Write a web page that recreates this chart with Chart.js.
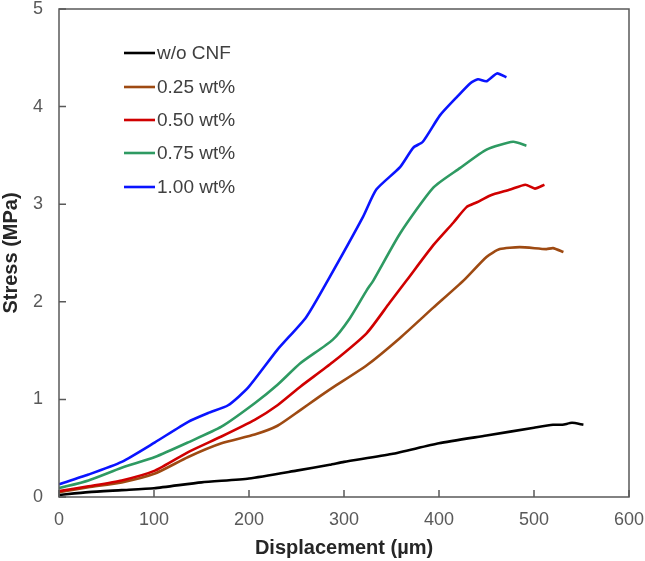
<!DOCTYPE html>
<html>
<head>
<meta charset="utf-8">
<script src="https://cdn.jsdelivr.net/npm/chart.js@4.4.0/dist/chart.umd.min.js"></script>
<style>
  html, body { margin: 0; padding: 0; background: #fff; }
  #wrap { width: 645px; height: 561px; position: relative; }
</style>
</head>
<body>
<div id="wrap"><canvas id="c" width="645" height="561"></canvas></div>
<script>
// ---- Data ----
const seriesLabels = ["w/o CNF", "0.25 wt%", "0.50 wt%", "0.75 wt%", "1.00 wt%"];
const seriesColors = ["#000000", "#9E4A12", "#D00000", "#2E9A62", "#0A14FF"];

const xNoCNF = [0, 31, 66, 100, 150, 200, 250, 285, 300, 350, 400, 450, 500, 520, 530, 540, 552];
const yNoCNF = [0.02, 0.05, 0.07, 0.09, 0.15, 0.19, 0.27, 0.33, 0.36, 0.44, 0.55, 0.63, 0.71, 0.74, 0.74, 0.76, 0.74];

const x025 = [0, 31, 66, 101, 136, 171, 206, 230, 254, 270, 288, 324, 359, 394, 426, 450, 464, 485, 513, 520, 531];
const y025 = [0.05, 0.10, 0.15, 0.24, 0.41, 0.55, 0.64, 0.73, 0.89, 1.00, 1.12, 1.35, 1.63, 1.94, 2.22, 2.46, 2.54, 2.56, 2.54, 2.55, 2.51];

const x050 = [0, 31, 66, 101, 136, 171, 206, 230, 254, 288, 324, 348, 366, 394, 415, 429, 440, 454, 475, 491, 501, 511];
const y050 = [0.06, 0.11, 0.17, 0.27, 0.46, 0.62, 0.79, 0.94, 1.13, 1.38, 1.68, 1.99, 2.22, 2.58, 2.81, 2.97, 3.02, 3.09, 3.15, 3.20, 3.16, 3.20];

const x075 = [0, 31, 66, 101, 136, 171, 206, 230, 254, 288, 306, 324, 331, 359, 394, 422, 450, 478, 492];
const y075 = [0.09, 0.17, 0.30, 0.41, 0.56, 0.72, 0.96, 1.15, 1.37, 1.61, 1.83, 2.12, 2.22, 2.70, 3.17, 3.37, 3.56, 3.64, 3.60];

const x100 = [0, 31, 66, 101, 136, 157, 178, 199, 230, 260, 283, 320, 334, 359, 373, 383, 401, 419, 433, 441, 450, 461, 471];
const y100 = [0.13, 0.23, 0.36, 0.56, 0.77, 0.86, 0.94, 1.12, 1.51, 1.84, 2.22, 2.87, 3.15, 3.38, 3.58, 3.64, 3.91, 4.10, 4.24, 4.28, 4.26, 4.34, 4.30];

const xTicks = [0, 100, 200, 300, 400, 500, 600];
const yTicks = [0, 1, 2, 3, 4, 5];

const seriesX = [xNoCNF, x025, x050, x075, x100];
const seriesY = [yNoCNF, y025, y050, y075, y100];

const datasets = seriesLabels.map((lab, i) => ({
  label: lab,
  data: seriesX[i].map((x, j) => ({ x: x, y: seriesY[i][j] })),
  borderColor: seriesColors[i],
  backgroundColor: seriesColors[i],
  borderWidth: 2.6,
  pointRadius: 0,
  showLine: true,
  tension: 0.2,
  fill: false
})).reverse();

const FONT = "'Liberation Sans', Arial, sans-serif";
const FRAME = "#595959";

// frame, inward ticks and legend
const decor = {
  id: 'decor',
  afterDraw(chart) {
    const ctx = chart.ctx;
    const a = chart.chartArea;
    const xs = chart.scales.x, ys = chart.scales.y;
    ctx.save();
    ctx.strokeStyle = FRAME;
    ctx.lineWidth = 1.5;
    ctx.strokeRect(a.left, a.top, a.right - a.left, a.bottom - a.top);
    ctx.beginPath();
    xTicks.forEach(v => {
      const px = xs.getPixelForValue(v);
      ctx.moveTo(px, a.bottom); ctx.lineTo(px, a.bottom - 7);
    });
    yTicks.forEach(v => {
      const py = ys.getPixelForValue(v);
      ctx.moveTo(a.left, py); ctx.lineTo(a.left + 7, py);
    });
    ctx.stroke();
    // legend
    ctx.font = "19px " + FONT;
    ctx.textBaseline = 'middle';
    ctx.textAlign = 'left';
    const rowY = [53, 87, 120, 153, 187];
    seriesLabels.forEach((lab, i) => {
      const y = rowY[i];
      ctx.strokeStyle = seriesColors[i];
      ctx.lineWidth = 2.6;
      ctx.beginPath();
      ctx.moveTo(124, y); ctx.lineTo(155, y);
      ctx.stroke();
      ctx.fillStyle = '#404040';
      ctx.fillText(lab, 157, y + 1);
    });
    ctx.restore();
  }
};

new Chart(document.getElementById('c'), {
  type: 'scatter',
  data: { datasets },
  options: {
    responsive: false,
    animation: false,
    devicePixelRatio: 1,
    layout: { padding: { top: 9, right: 16, left: 0, bottom: 0 } },
    plugins: { legend: { display: false }, tooltip: { enabled: false } },
    scales: {
      x: {
        type: 'linear', min: 0, max: 600,
        afterBuildTicks: s => { s.ticks = xTicks.map(v => ({ value: v })); },
        afterFit: s => { s.height = 64; s.paddingLeft = 0; s.paddingRight = 0; },
        grid: { display: false, drawTicks: false },
        border: { display: false },
        ticks: { color: '#595959', font: { family: FONT, size: 18 }, padding: 12, maxRotation: 0 },
        title: { display: true, text: 'Displacement (µm)', color: '#262626',
                 font: { family: FONT, size: 20, weight: 'bold', lineHeight: 1.2 }, padding: { top: 0, bottom: 1 } }
      },
      y: {
        type: 'linear', min: 0, max: 5,
        afterBuildTicks: s => { s.ticks = yTicks.map(v => ({ value: v })); },
        afterFit: s => { s.width = 59; s.paddingTop = 0; s.paddingBottom = 0; },
        grid: { display: false, drawTicks: false },
        border: { display: false },
        ticks: { color: '#595959', font: { family: FONT, size: 18 }, padding: 16 },
        title: { display: true, text: 'Stress (MPa)', color: '#262626',
                 font: { family: FONT, size: 20, weight: 'bold', lineHeight: 1.1 }, padding: { top: 0, bottom: 0 } }
      }
    }
  },
  plugins: [decor]
});
</script>
</body>
</html>
